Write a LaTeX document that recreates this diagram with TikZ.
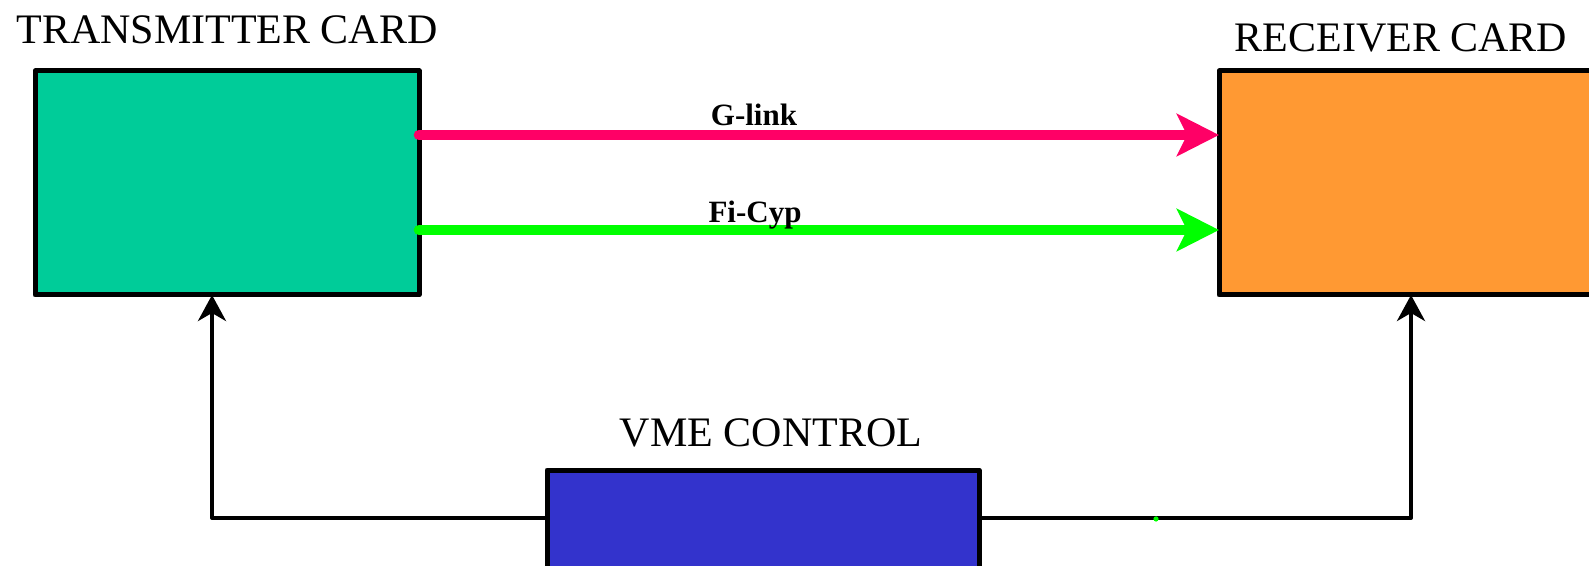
\documentclass[tikz,border=0pt]{standalone}
\usepackage{fontspec}
\setmainfont{Liberation Serif}
\usetikzlibrary{arrows.meta}
\definecolor{txfill}{HTML}{00CC99}
\definecolor{rxfill}{HTML}{FF9933}
\definecolor{vmefill}{HTML}{3333CC}
\definecolor{glink}{HTML}{FF0066}
\definecolor{ficyp}{HTML}{00FF00}
\begin{document}
\begin{tikzpicture}[x=0.5pt,y=-0.5pt,
  card/.style={draw=black,line width=2.5pt,line join=round,inner sep=0pt,outer sep=0pt},
  title/.style={font=\fontsize{21}{24}\selectfont,anchor=base,inner sep=0pt},
  linklabel/.style={font=\fontsize{15.5}{18}\selectfont\bfseries,anchor=base,inner sep=0pt},
  datalink/.style={line width=5.3pt,line cap=round,-{Stealth[length=21pt,width=21pt,inset=5pt]}},
  ctrl/.style={line width=2pt,line join=round,-{Stealth[length=13pt,width=14pt,inset=4pt]}}]
\useasboundingbox (0,0) rectangle (1589,566);
\node[card,fill=txfill,minimum width=192pt,minimum height=112pt] (tx) at (227,183) {};
\node[card,fill=rxfill,minimum width=192pt,minimum height=112pt] (rx) at (1411,183) {};
\node[card,fill=vmefill,minimum width=216pt,minimum height=70pt] (vme) at (763,540) {};
\node[title] (txl) at (227,44) {TRANSMITTER CARD};
\node[title] (rxl) at (1401,52) {RECEIVER CARD};
\node[title] (vmel) at (771,446) {VME CONTROL};
\draw[datalink,glink] ([yshift=24pt]tx.east) -- ([yshift=24pt]rx.west);
\draw[datalink,ficyp] ([yshift=-23.5pt]tx.east) -- ([yshift=-23.5pt]rx.west);
\node[linklabel] (gl) at (754,126) {G-link};
\node[linklabel] (fl) at (755,223) {Fi-Cyp};
\draw[ctrl] ([yshift=11pt]vme.west) -| ([xshift=-7.5pt]tx.south);
\draw[ctrl] ([yshift=11pt]vme.east) -| (rx.south);
\fill[ficyp] (1156,519) circle (1.3pt);
\end{tikzpicture}
\end{document}
